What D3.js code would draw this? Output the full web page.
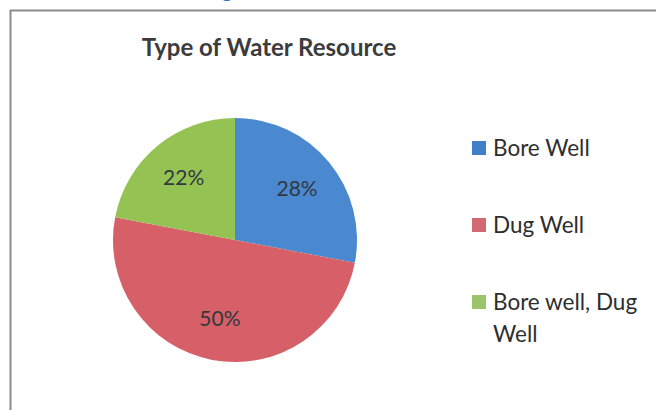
<!DOCTYPE html>
<html>
<head>
<meta charset="utf-8">
<script src="https://cdn.jsdelivr.net/npm/d3@7"></script>
<style>
  body { margin: 0; background: #fff; }
  svg { display: block; font-family: Lato, "Open Sans", sans-serif; }
</style>
</head>
<body>
<div id="chart"></div>
<script>
// data
const categories = ["Bore Well", "Dug Well", "Bore well, Dug Well"];
const values = [28, 50, 22];
const legendLines = [["Bore Well"], ["Dug Well"], ["Bore well, Dug", "Well"]];
const colors = ["#4a89d0", "#d65f68", "#95c353"];
const legendColors = ["#3f80c8", "#d26870", "#9cc46a"];

const width = 656, height = 410;

const svg = d3.select("#chart")
  .append("svg")
  .attr("width", width)
  .attr("height", height);

// clipped heading from the page above
svg.append("text")
  .attr("x", 227)
  .attr("y", -3)
  .attr("text-anchor", "middle")
  .attr("font-size", 22)
  .attr("font-weight", "bold")
  .attr("fill", "#2f78c4")
  .text("g");

// frame (left and top edges only visible)
svg.append("path")
  .attr("d", `M10.5,${height} V10.5 H${width}`)
  .attr("fill", "none")
  .attr("stroke", "#8a8a8a")
  .attr("stroke-width", 2);

// title
svg.append("text")
  .attr("x", 269)
  .attr("y", 56)
  .attr("text-anchor", "middle")
  .attr("font-size", 24)
  .attr("font-weight", "bold")
  .attr("fill", "#3c3c3c")
  .text("Type of Water Resource");

// pie
const cx = 235, cy = 240, r = 122;
const pie = d3.pie().sort(null).value((d) => d)(values);
const arc = d3.arc().innerRadius(0).outerRadius(r);
const labelArc = d3.arc().innerRadius(r * 0.66).outerRadius(r * 0.66);

const g = svg.append("g").attr("transform", `translate(${cx},${cy})`);

g.selectAll("path")
  .data(pie)
  .enter()
  .append("path")
  .attr("d", arc)
  .attr("fill", (d, i) => colors[i]);

g.selectAll("text.lbl")
  .data(pie)
  .enter()
  .append("text")
  .attr("class", "lbl")
  .attr("transform", (d) => `translate(${labelArc.centroid(d)})`)
  .attr("text-anchor", "middle")
  .attr("dy", "0.35em")
  .attr("font-size", 21)
  .attr("fill", "#33383f")
  .text((d) => d.data + "%");

// legend
const legendY = d3.scalePoint()
  .domain(categories)
  .range([148, 302]);

const lg = svg.append("g");
const item = lg.selectAll("g")
  .data(categories)
  .enter()
  .append("g")
  .attr("transform", (d) => `translate(472,${legendY(d)})`);

item.append("rect")
  .attr("x", 0)
  .attr("y", -7)
  .attr("width", 14)
  .attr("height", 14)
  .attr("fill", (d, i) => legendColors[i]);

item.append("text")
  .attr("x", 21)
  .attr("font-size", 22.5)
  .attr("fill", "#2e2e2e")
  .selectAll("tspan")
  .data((d, i) => legendLines[i])
  .enter()
  .append("tspan")
  .attr("x", 21)
  .attr("dy", (d, j) => (j === 0 ? "0.36em" : "1.4em"))
  .text((d) => d);
</script>
</body>
</html>
